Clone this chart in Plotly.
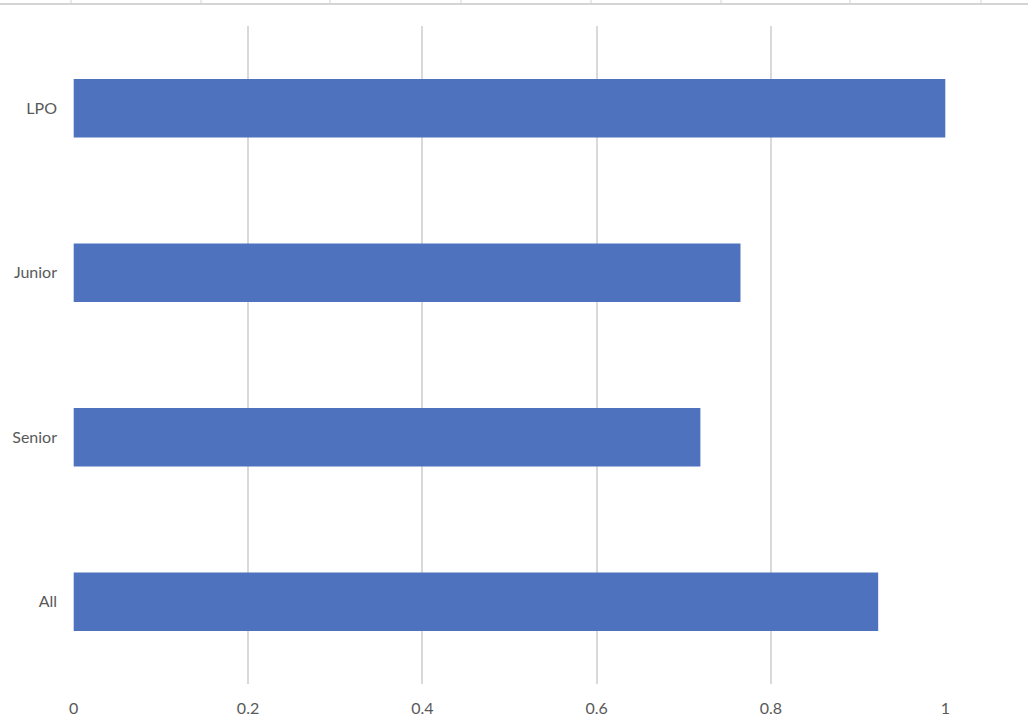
import plotly.graph_objects as go

categories = ["All", "Senior", "Junior", "LPO"]
values = [0.923, 0.719, 0.765, 1.0]
tick_vals = [0, 0.2, 0.4, 0.6, 0.8, 1]
tick_text = ["0", "0.2", "0.4", "0.6", "0.8", "1"]

W, H = 1028, 728
L, R, T, B = 73, 82, 26, 44
pw, ph = W - L - R, H - T - B

fig = go.Figure()
fig.add_trace(go.Bar(
    x=values, y=categories, orientation="h",
    marker=dict(color="#4E72BD", line=dict(width=0)),
    width=0.355,
))

# spreadsheet header border seen along the top of the screenshot
def px_x(p):
    return (p - L) / pw

def px_y(p):
    return (H - B - p) / ph

shapes = [dict(type="line", xref="paper", yref="paper",
               x0=px_x(0), x1=px_x(W), y0=px_y(4), y1=px_y(4),
               line=dict(color="#d4d4d4", width=2))]
for cx in [71, 201, 330, 461, 591, 721, 850, 981]:
    shapes.append(dict(type="line", xref="paper", yref="paper",
                       x0=px_x(cx), x1=px_x(cx), y0=px_y(0), y1=px_y(4),
                       line=dict(color="#d4d4d4", width=1)))

fig.update_layout(
    width=W, height=H,
    margin=dict(l=L, r=R, t=T, b=B, autoexpand=False),
    plot_bgcolor="white", paper_bgcolor="white",
    font=dict(family="Lato, Open Sans, sans-serif", size=16, color="#595959"),
    showlegend=False,
    shapes=shapes,
    xaxis=dict(range=[-0.0008, 1.0008], tickvals=tick_vals, ticktext=tick_text,
               showgrid=True, gridcolor="#d9d9d9", gridwidth=1.5,
               zeroline=False, showline=False, ticks="", ticklabelstandoff=13,
               automargin=False),
    yaxis=dict(categoryorder="array", categoryarray=categories,
               showgrid=False, zeroline=False, showline=False, ticks="",
               ticklabelstandoff=15, automargin=False),
)

fig.write_html("out.html", config={"displayModeBar": False},
               post_script="document.body.style.margin='0';")
